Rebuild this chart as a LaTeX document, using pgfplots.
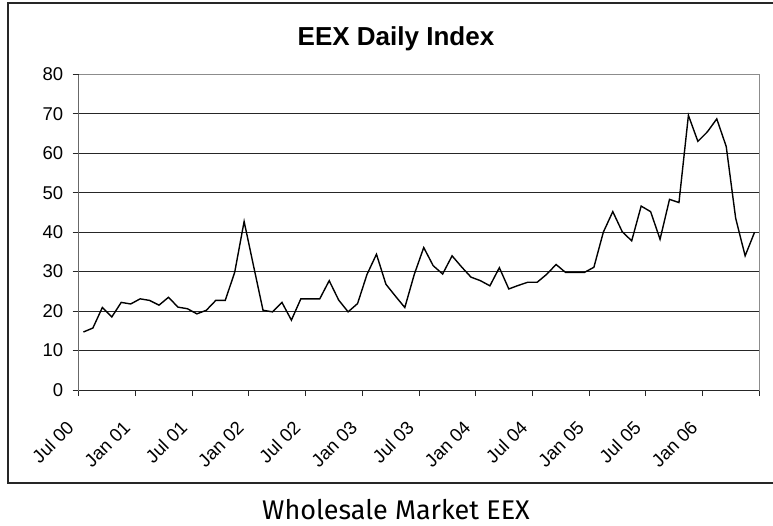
\documentclass[border=0pt]{standalone}
\usepackage{fontspec}
\setmainfont{Liberation Sans}
\newfontfamily\capfont{Fira Sans}
\usepackage{pgfplots}
\pgfplotsset{compat=1.18}
\pgfplotstableread{
x y
0.5 14.7
1.5 15.7
2.5 20.9
3.5 18.5
4.5 22.2
5.5 21.8
6.5 23.1
7.5 22.7
8.5 21.5
9.5 23.5
10.5 21.0
11.5 20.6
12.5 19.3
13.5 20.2
14.5 22.7
15.5 22.7
16.5 29.8
17.5 42.7
18.5 31.4
19.5 20.2
20.5 19.8
21.5 22.2
22.5 17.7
23.5 23.1
24.5 23.1
25.5 23.1
26.5 27.7
27.5 22.8
28.5 19.8
29.5 21.9
30.5 29.3
31.5 34.4
32.5 26.8
33.5 23.8
34.5 20.9
35.5 29.3
36.5 36.1
37.5 31.5
38.5 29.4
39.5 34.0
40.5 31.2
41.5 28.6
42.5 27.7
43.5 26.4
44.5 31.0
45.5 25.6
46.5 26.5
47.5 27.3
48.5 27.3
49.5 29.3
50.5 31.8
51.5 29.8
52.5 29.8
53.5 29.8
54.5 31.1
55.5 40.0
56.5 45.2
57.5 40.1
58.5 37.8
59.5 46.6
60.5 45.2
61.5 38.2
62.5 48.3
63.5 47.5
64.5 69.6
65.5 63.0
66.5 65.4
67.5 68.7
68.5 61.7
69.5 43.5
70.5 34.0
71.5 40.0
}\eexdata
\begin{document}
\begin{tikzpicture}[x=1bp,y=1bp]
\useasboundingbox (0,0) rectangle (773,-526);
\coordinate (A) at (78.7,-390);
\draw[line width=1.1bp, black!85] (8,-3) rectangle (790,-483);
\node[anchor=base, inner sep=0pt, font=\bfseries\fontsize{26bp}{30bp}\selectfont] at (396,-46) {EEX Daily Index};
\node[anchor=base, inner sep=0pt, font=\capfont\fontsize{27bp}{30bp}\selectfont] at (396,-519.3) {Wholesale Market EEX};
\begin{axis}[
  scale only axis, width=680.6bp, height=315.7bp,
  at={(A)}, anchor=south west,
  xmin=0, xmax=72, ymin=0, ymax=80,
  xtick={0,6,...,72},
  xticklabels={Jul 00, Jan 01, Jul 01, Jan 02, Jul 02, Jan 03, Jul 03, Jan 04, Jul 04, Jan 05, Jul 05, Jan 06, {}},
  ytick={0,10,...,70},
  extra y ticks={80},
  extra y tick style={grid=none},
  ymajorgrids,
  grid style={black!85, line width=0.9bp},
  axis line style={black!45, line width=0.9bp},
  tick style={black!85, line width=0.9bp},
  tick align=outside,
  major tick length=6bp,
  xtick pos=left, ytick pos=left,
  /pgf/number format/assume math mode=true,
  tick label style={font=\fontsize{18.5bp}{21bp}\selectfont},
  yticklabel style={xshift=-6bp},
  xticklabel style={xshift=-6bp, yshift=-26bp, rotate=45, anchor=east},
]
\draw[black!85, line width=0.9bp] (rel axis cs:0,0) -- (rel axis cs:0,1);
\draw[black!85, line width=0.9bp] (rel axis cs:0,0) -- (rel axis cs:1,0);
\addplot[black, line width=1.4bp, mark=none] table[x=x, y=y] {\eexdata};
\end{axis}
\end{tikzpicture}
\end{document}
